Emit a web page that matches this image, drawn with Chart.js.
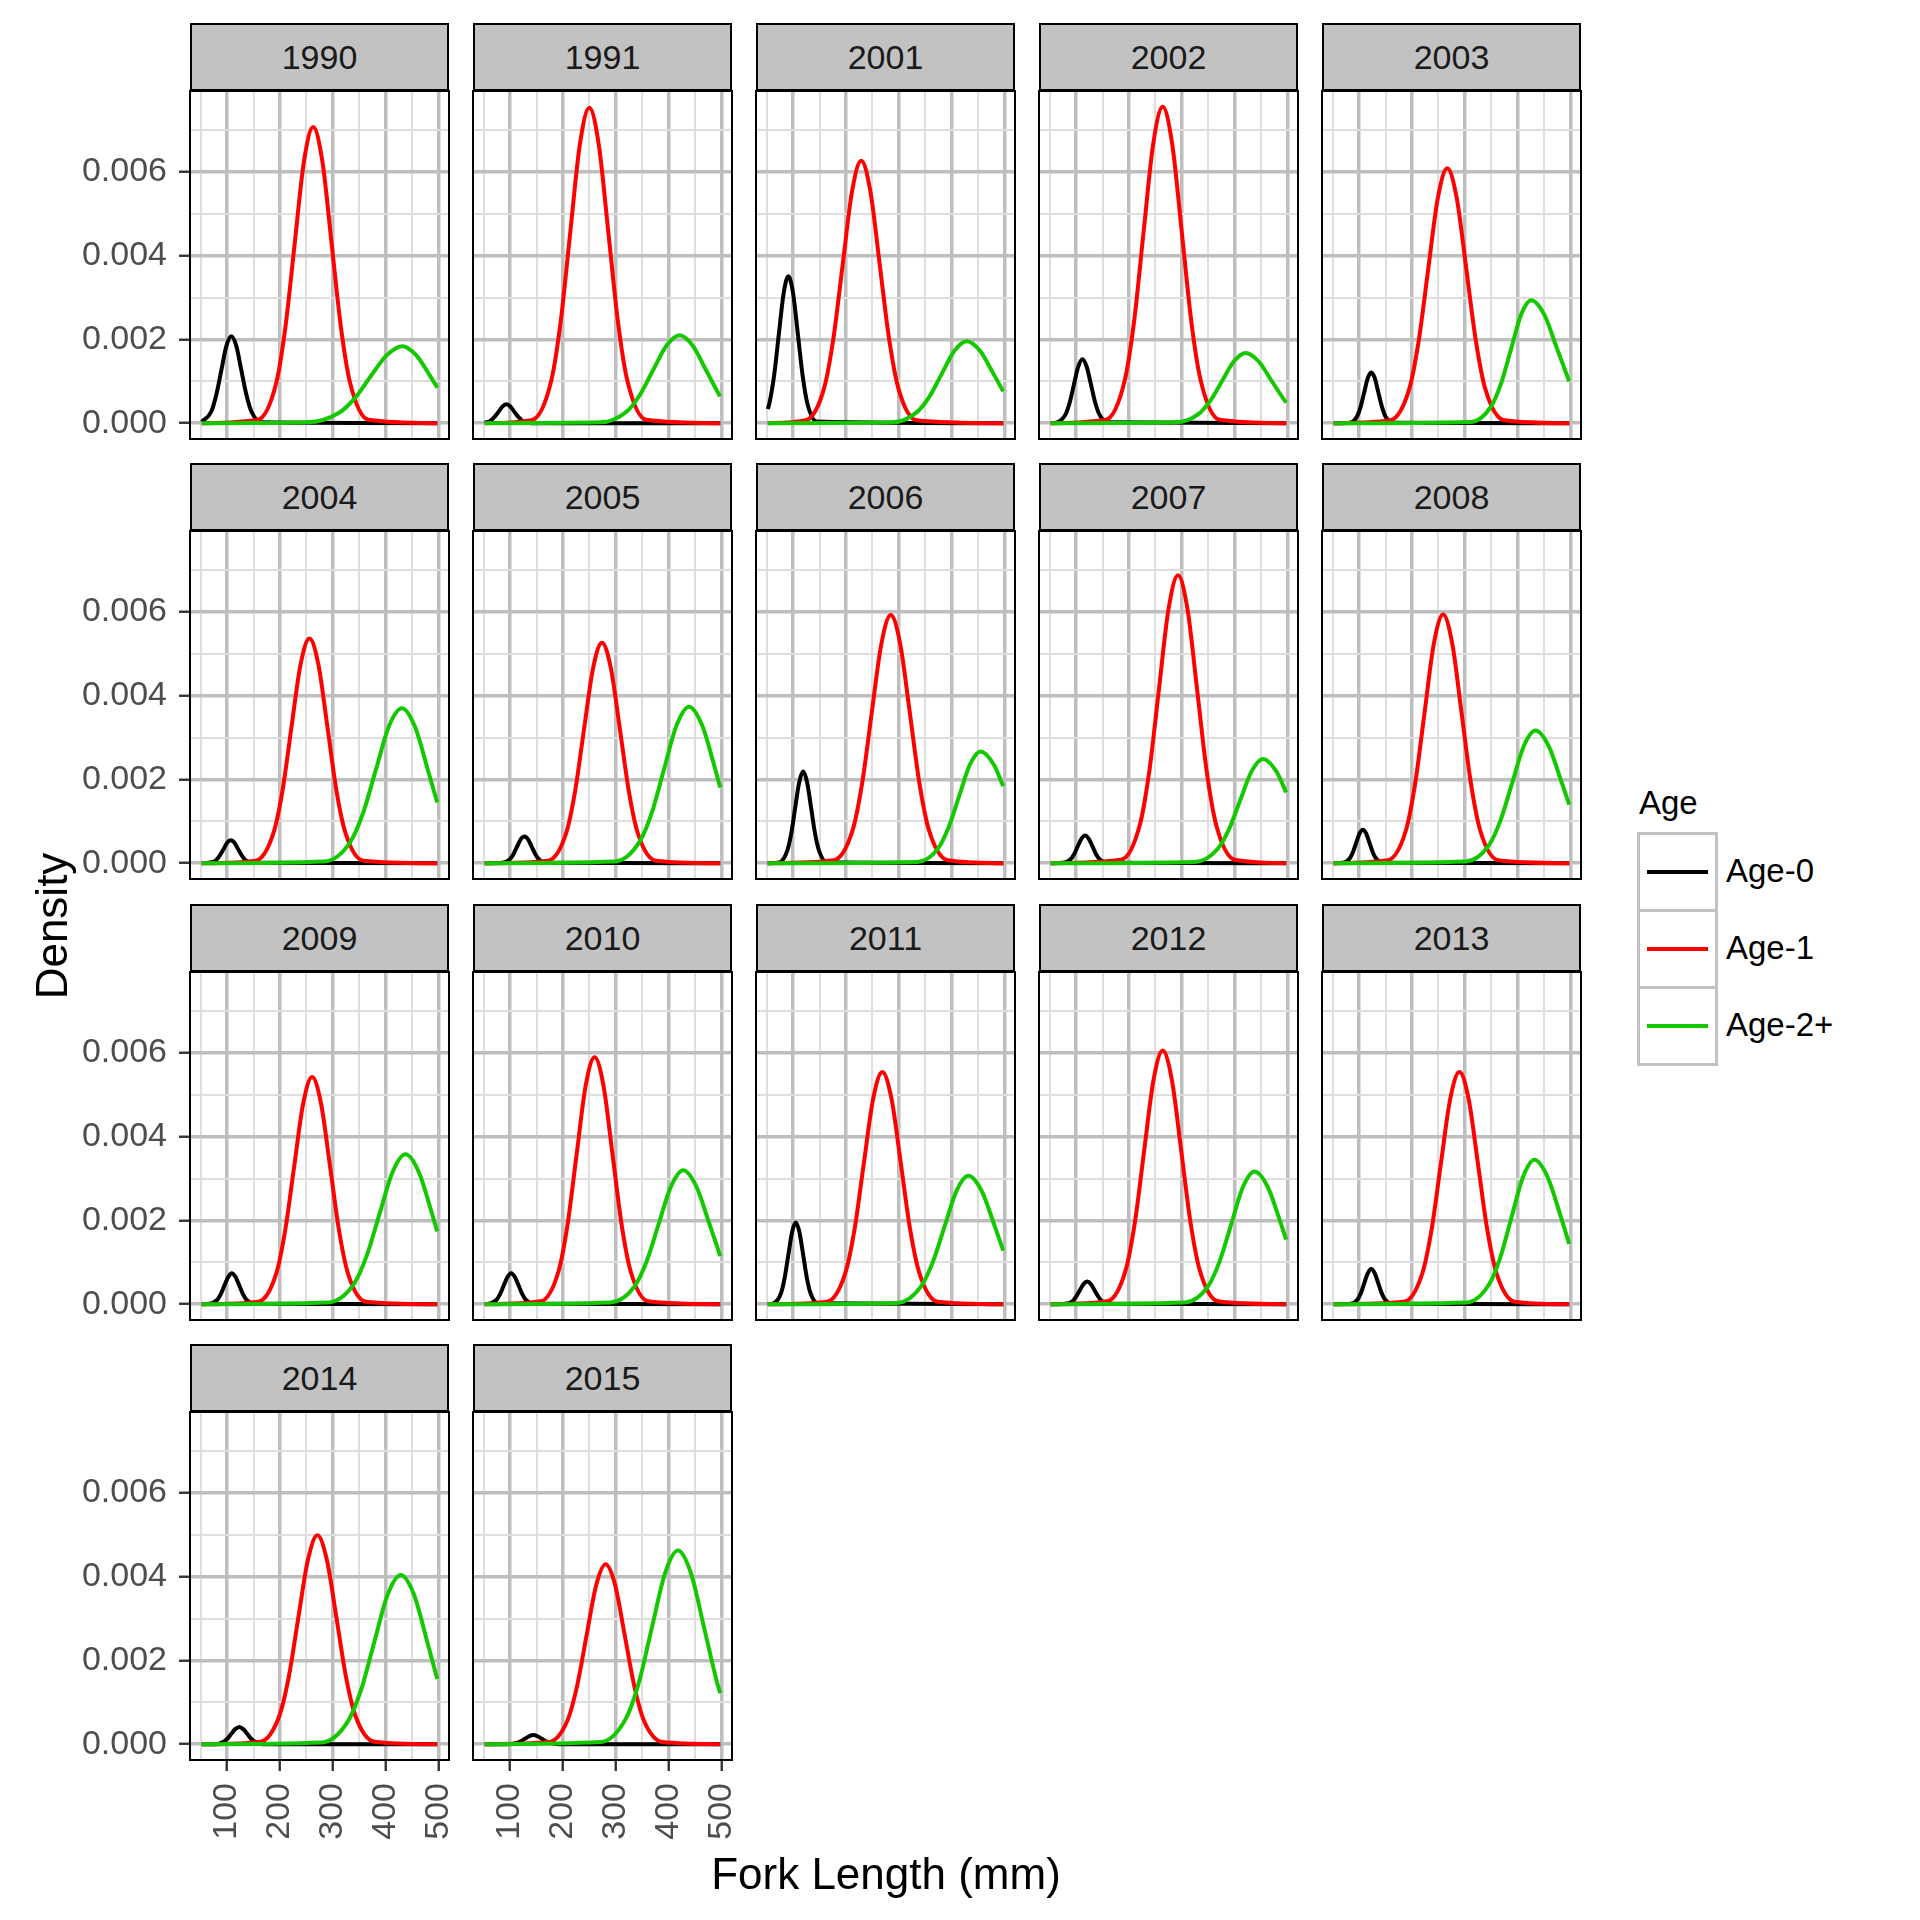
<!DOCTYPE html>
<html>
<head>
<meta charset="utf-8">
<script src="https://cdn.jsdelivr.net/npm/chart.js@4.4.0/dist/chart.umd.min.js"></script>
<style>
html,body{margin:0;padding:0;background:#ffffff;}
#page{position:relative;width:1920px;height:1920px;overflow:hidden;font-family:"Liberation Sans",Arial,Helvetica,sans-serif;}
#page canvas{position:absolute;}
.strip{position:absolute;box-sizing:border-box;background:#C2C2C2;border:2px solid #000;color:#1A1A1A;font-size:34px;text-align:center;white-space:nowrap;}
.txt{position:absolute;white-space:nowrap;color:#000;}
.key{position:absolute;box-sizing:border-box;border:3px solid #C2C2C2;background:#fff;}
.keyline{position:absolute;left:7px;width:61px;height:4px;}
</style>
</head>
<body>
<div id="page"></div>
<script>
// ---------------- data ----------------
const YEARS = ['1990','1991','2001','2002','2003','2004','2005','2006','2007','2008','2009','2010','2011','2012','2013','2014','2015'];
const AGE_GROUPS = ['Age-0','Age-1','Age-2+'];
const X_TICKS = [50,100,150,200,250,300,350,400,450,500];
const X_LABELS = [100,200,300,400,500];
const Y_TICKS = [0,0.001,0.002,0.003,0.004,0.005,0.006,0.007];
const Y_LABELS = [0,0.002,0.004,0.006];

// Age-0 density curves, [fork length, density], one list per year (YEARS order)
const AGE0 = [
 [[52,.00003],[70,.00028],[79.5,.00068],[89,.00126],[98.5,.00184],[108,.00208],[117.5,.00184],[127,.00126],[136.5,.00068],[146,.00028],[165,.00002],[498,0]],
 [[52,.00001],[63,.00006],[70.5,.00015],[78,.00027],[85.5,.0004],[93,.00045],[100.5,.0004],[108,.00027],[115.5,.00015],[123,.00006],[138,0],[498,0]],
 [[52,.00034],[55,.00047],[64,.00114],[73,.00213],[82,.0031],[91,.00351],[100,.0031],[109,.00213],[118,.00114],[127,.00047],[145,.00004],[498,0]],
 [[52,0],[64,.00002],[80,.00021],[88,.0005],[96,.00093],[104,.00135],[112,.00153],[120,.00135],[128,.00093],[136,.0005],[144,.00021],[160,.00002],[498,0]],
 [[52,0],[82.5,.00001],[96,.00016],[102.8,.00039],[109.5,.00073],[116.3,.00107],[123,.00121],[129.8,.00107],[136.5,.00073],[143.3,.00039],[150,.00016],[163.5,.00001],[498,0]],
 [[52,0],[65,.00001],[79,.00007],[86,.00018],[93,.00033],[100,.00049],[107,.00055],[114,.00049],[121,.00033],[128,.00018],[135,.00007],[149,.00001],[498,0]],
 [[52,0],[85,.00001],[99,.00009],[106,.00021],[113,.00039],[120,.00057],[127,.00064],[134,.00057],[141,.00039],[148,.00021],[155,.00009],[169,.00001],[498,0]],
 [[52,0],[74,.00002],[89,.0003],[96.5,.00071],[104,.00133],[111.5,.00193],[119,.00219],[126.5,.00193],[134,.00133],[141.5,.00071],[149,.0003],[164,.00002],[498,0]],
 [[52,0],[75,.00001],[89,.00009],[96,.00021],[103,.0004],[110,.00058],[117,.00066],[124,.00058],[131,.0004],[138,.00021],[145,.00009],[159,.00001],[498,0]],
 [[52,0],[69.5,.00001],[82,.00011],[88.3,.00026],[94.5,.00049],[100.8,.00071],[107,.0008],[113.3,.00071],[119.5,.00049],[125.8,.00026],[132,.00011],[144.5,.00001],[498,0]],
 [[52,0],[67,.00001],[81,.0001],[88,.00024],[95,.00045],[102,.00065],[109,.00074],[116,.00065],[123,.00045],[130,.00024],[137,.0001],[151,.00001],[498,0]],
 [[52,0],[60,.00001],[74,.0001],[81,.00024],[88,.00045],[95,.00065],[102,.00074],[109,.00065],[116,.00045],[123,.00024],[130,.0001],[144,.00001],[498,0]],
 [[52,0],[63,.00002],[77,.00026],[84,.00063],[91,.00118],[98,.00172],[105,.00195],[112,.00172],[119,.00118],[126,.00063],[133,.00026],[147,.00002],[498,0]],
 [[52,0],[79,.00001],[93,.00007],[100,.00018],[107,.00033],[114,.00048],[121,.00054],[128,.00048],[135,.00033],[142,.00018],[149,.00007],[163,.00001],[498,0]],
 [[52,0],[84,.00001],[97,.00011],[103.5,.00027],[110,.00051],[116.5,.00074],[123,.00084],[129.5,.00074],[136,.00051],[142.5,.00027],[149,.00011],[162,.00001],[498,0]],
 [[52,0],[78,0],[93,.00006],[100.5,.00013],[108,.00025],[115.5,.00036],[123,.00041],[130.5,.00036],[138,.00025],[145.5,.00013],[153,.00006],[168,0],[498,0]],
 [[52,0],[96,0],[112,.00003],[120,.00007],[128,.00013],[136,.00019],[144,.00022],[152,.00019],[160,.00013],[168,.00007],[176,.00003],[192,0],[498,0]]
];

// Age-1 density curves
const AGE1 = [
 [[52,0],[158,.00008],[193,.00096],[210.5,.0023],[228,.00429],[245.5,.00625],[263,.00708],[280.5,.00625],[298,.00429],[315.5,.0023],[333,.00096],[368,.00008],[498,0]],
 [[52,0],[142,.00008],[178,.00102],[196,.00245],[214,.00457],[232,.00665],[250,.00754],[268,.00665],[286,.00457],[304,.00245],[322,.00102],[358,.00008],[498,0]],
 [[52,0],[124,.00007],[159,.00085],[176.5,.00204],[194,.0038],[211.5,.00553],[229,.00627],[246.5,.00553],[264,.0038],[281.5,.00204],[299,.00085],[334,.00007],[498,0]],
 [[52,0],[156,.00008],[192,.00102],[210,.00245],[228,.00459],[246,.00667],[264,.00756],[282,.00667],[300,.00459],[318,.00245],[336,.00102],[372,.00008],[498,0]],
 [[52,0],[159,.00007],[195,.00082],[213,.00198],[231,.00369],[249,.00537],[267,.00609],[285,.00537],[303,.00369],[321,.00198],[339,.00082],[375,.00007],[498,0]],
 [[52,0],[154,.00006],[188,.00073],[205,.00174],[222,.00326],[239,.00474],[256,.00537],[273,.00474],[290,.00326],[307,.00174],[324,.00073],[358,.00006],[498,0]],
 [[52,0],[172,.00006],[206,.00071],[223,.00171],[240,.0032],[257,.00465],[274,.00527],[291,.00465],[308,.0032],[325,.00171],[342,.00071],[376,.00006],[498,0]],
 [[52,0],[177,.00007],[213,.0008],[231,.00193],[249,.0036],[267,.00523],[285,.00593],[303,.00523],[321,.0036],[339,.00193],[357,.0008],[393,.00007],[498,0]],
 [[52,0],[185,.00008],[221,.00093],[239,.00223],[257,.00417],[275,.00607],[293,.00688],[311,.00607],[329,.00417],[347,.00223],[365,.00093],[401,.00008],[498,0]],
 [[52,0],[154,.00007],[189,.0008],[206.5,.00193],[224,.0036],[241.5,.00524],[259,.00594],[276.5,.00524],[294,.0036],[311.5,.00193],[329,.0008],[364,.00007],[498,0]],
 [[52,0],[159,.00006],[193,.00073],[210,.00176],[227,.00329],[244,.00479],[261,.00543],[278,.00479],[295,.00329],[312,.00176],[329,.00073],[363,.00006],[498,0]],
 [[52,0],[158,.00007],[192,.0008],[209,.00192],[226,.00358],[243,.00521],[260,.0059],[277,.00521],[294,.00358],[311,.00192],[328,.0008],[362,.00007],[498,0]],
 [[52,0],[164,.00006],[199,.00075],[216.5,.0018],[234,.00337],[251.5,.0049],[269,.00555],[286.5,.0049],[304,.00337],[321.5,.0018],[339,.00075],[374,.00006],[498,0]],
 [[52,0],[159,.00007],[194,.00082],[211.5,.00197],[229,.00368],[246.5,.00535],[264,.00606],[281.5,.00535],[299,.00368],[316.5,.00197],[334,.00082],[369,.00007],[498,0]],
 [[52,0],[185,.00006],[220,.00075],[237.5,.0018],[255,.00337],[272.5,.0049],[290,.00555],[307.5,.0049],[325,.00337],[342.5,.0018],[360,.00075],[395,.00006],[498,0]],
 [[52,0],[163,.00006],[199,.00068],[217,.00162],[235,.00303],[253,.0044],[271,.00499],[289,.0044],[307,.00303],[325,.00162],[343,.00068],[379,.00006],[498,0]],
 [[52,0],[173,.00005],[209,.00058],[227,.0014],[245,.00261],[263,.0038],[281,.0043],[299,.0038],[317,.00261],[335,.0014],[353,.00058],[389,.00005],[498,0]]
];

// Age-2+ density curves
const AGE2 = [
 [[52,0],[252,.00002],[312,.00025],[342,.0006],[372,.00112],[402,.00162],[432,.00184],[458.5,.00162],[485,.00112],[498,.00085]],
 [[52,0],[271,.00002],[321,.00028],[346,.00068],[371,.00127],[396,.00185],[421,.0021],[446,.00185],[471,.00127],[496,.00068],[498,.00064]],
 [[52,0],[288,.00002],[335,.00027],[358.5,.00064],[382,.00119],[405.5,.00173],[429,.00196],[454,.00173],[479,.00119],[498,.00076]],
 [[52,0],[289,.00002],[333,.00023],[355,.00055],[377,.00102],[399,.00148],[421,.00168],[445.5,.00148],[470,.00102],[494.5,.00055],[498,.00049]],
 [[52,0],[312,.00003],[350,.0004],[369,.00095],[388,.00178],[407,.0026],[426,.00294],[450.5,.0026],[475,.00178],[498,.001]],
 [[52,0],[284,.00004],[333,.0005],[357.5,.0012],[382,.00224],[406.5,.00327],[431,.0037],[455.5,.00327],[480,.00224],[498,.00145]],
 [[52,0],[298,.00004],[345,.00051],[368.5,.00121],[392,.00227],[415.5,.0033],[439,.00374],[463.5,.0033],[488,.00227],[498,.00181]],
 [[52,0],[335,.00003],[375,.00036],[395,.00087],[415,.00162],[435,.00236],[455,.00267],[480,.00236],[498,.00184]],
 [[52,0],[325,.00003],[368,.00034],[389.5,.00081],[411,.00151],[432.5,.0022],[454,.00249],[479,.0022],[498,.00169]],
 [[52,0],[302,.00004],[346,.00043],[368,.00103],[390,.00192],[412,.0028],[434,.00317],[459,.0028],[484,.00192],[498,.0014]],
 [[52,0],[291,.00004],[340,.00048],[364.5,.00116],[389,.00217],[413.5,.00316],[438,.00358],[463,.00316],[488,.00217],[498,.00174]],
 [[52,0],[290,.00004],[336,.00043],[359,.00104],[382,.00194],[405,.00282],[428,.0032],[452.5,.00282],[477,.00194],[498,.00115]],
 [[52,0],[297,.00003],[342,.00042],[364.5,.001],[387,.00186],[409.5,.00271],[432,.00307],[457,.00271],[482,.00186],[498,.00128]],
 [[52,0],[306,.00004],[350,.00043],[372,.00103],[394,.00192],[416,.0028],[438,.00317],[463,.0028],[488,.00192],[498,.00154]],
 [[52,0],[303,.00004],[346,.00047],[367.5,.00112],[389,.00209],[410.5,.00304],[432,.00345],[457,.00304],[482,.00209],[498,.00144]],
 [[52,0],[279,.00004],[329,.00055],[354,.00131],[379,.00245],[404,.00357],[429,.00404],[454,.00357],[479,.00245],[498,.00156]],
 [[52,0],[271,.00005],[320,.00063],[344.5,.0015],[369,.00281],[393.5,.00409],[418,.00463],[442.5,.00409],[467,.00281],[491.5,.0015],[498,.00122]]
];

// ---------------- layout & style ----------------
const COLORS = ['#000000', '#FF0000', '#14C800'];
const X_MIN = 29.7, X_MAX = 520.3, Y_MIN = -0.000378, Y_MAX = 0.007938;
const COL_X = [190, 473, 756, 1039, 1322];
const ROW_Y = [91, 531, 972, 1412];
const PW = 259, PH = 348, STRIP_H = 68;
const MAJOR = '#BEBEBE', MINOR = '#DEDEDE';
const FONT = '"Liberation Sans", Arial, Helvetica, sans-serif';
const X_AXIS_H = 100;

Chart.defaults.font.family = FONT;

const page = document.getElementById('page');
const isMajorX = v => X_LABELS.some(t => Math.abs(t - v) < 1e-6);
const isMajorY = v => Y_LABELS.some(t => Math.abs(t - v) < 1e-9);

const panelBorder = {
  id: 'panelBorder',
  afterDraw(chart) {
    const {ctx, chartArea: a} = chart;
    ctx.save();
    ctx.strokeStyle = '#000';
    ctx.lineWidth = 2;
    ctx.strokeRect(a.left, a.top, a.right - a.left, a.bottom - a.top);
    ctx.restore();
  }
};

function fixFit(s, horiz, size) {
  if (horiz) s.height = size; else s.width = size;
  s.paddingLeft = 0; s.paddingRight = 0; s.paddingTop = 0; s.paddingBottom = 0;
}

YEARS.forEach((yr, i) => {
  const c = i % 5, r = Math.floor(i / 5);
  const pl = COL_X[c], pt = ROW_Y[r];
  const showY = c === 0, showX = r === 3;

  const strip = document.createElement('div');
  strip.className = 'strip';
  strip.style.left = pl + 'px';
  strip.style.top = (pt - STRIP_H) + 'px';
  strip.style.width = PW + 'px';
  strip.style.height = STRIP_H + 'px';
  strip.style.lineHeight = (STRIP_H - 4) + 'px';
  strip.textContent = yr;
  page.appendChild(strip);

  // canvas extents around the panel
  const extL = showY ? pl : 6, extT = 6, extR = 6, extB = showX ? X_AXIS_H : 6;
  const yAxisW = showY ? extL : 0;
  const xAxisH = showX ? extB : 0;
  const cw = PW + extL + extR, ch = PH + extT + extB;
  const cv = document.createElement('canvas');
  cv.width = cw; cv.height = ch;
  cv.style.width = cw + 'px'; cv.style.height = ch + 'px';
  cv.style.left = (pl - extL) + 'px';
  cv.style.top = (pt - extT) + 'px';
  page.appendChild(cv);

  const curves = [AGE0[i], AGE1[i], AGE2[i]];
  new Chart(cv, {
    type: 'line',
    data: {
      datasets: AGE_GROUPS.map((g, k) => ({
        label: g,
        data: curves[k],
        borderColor: COLORS[k],
        borderWidth: 4,
        pointRadius: 0,
        fill: false,
        cubicInterpolationMode: 'monotone',
        order: 3 - k
      }))
    },
    options: {
      responsive: false,
      animation: false,
      devicePixelRatio: 1,
      events: [],
      layout: {padding: {left: extL - yAxisW, top: extT, right: extR, bottom: extB - xAxisH}},
      plugins: {legend: {display: false}, tooltip: {enabled: false}, title: {display: false}},
      scales: {
        x: {
          type: 'linear', position: 'bottom', min: X_MIN, max: X_MAX,
          afterBuildTicks: s => { s.ticks = X_TICKS.map(v => ({value: v})); },
          afterFit: s => fixFit(s, true, xAxisH),
          border: {display: false},
          grid: {
            color: ctx => (ctx.tick && isMajorX(ctx.tick.value)) ? MAJOR : MINOR,
            lineWidth: ctx => (ctx.tick && isMajorX(ctx.tick.value)) ? 3.5 : 2,
            drawTicks: showX, tickLength: 11, tickWidth: 2.4,
            tickColor: ctx => (ctx.tick && isMajorX(ctx.tick.value)) ? '#333333' : 'rgba(0,0,0,0)'
          },
          ticks: {
            display: showX, autoSkip: false, minRotation: 90, maxRotation: 90, padding: 12,
            color: '#4D4D4D', font: {family: FONT, size: 34},
            callback: v => isMajorX(v) ? String(Math.round(v)) : ''
          }
        },
        y: {
          type: 'linear', position: 'left', min: Y_MIN, max: Y_MAX,
          afterBuildTicks: s => { s.ticks = Y_TICKS.map(v => ({value: v})); },
          afterFit: s => fixFit(s, false, yAxisW),
          border: {display: false},
          grid: {
            color: ctx => (ctx.tick && isMajorY(ctx.tick.value)) ? MAJOR : MINOR,
            lineWidth: ctx => (ctx.tick && isMajorY(ctx.tick.value)) ? 3.5 : 2,
            drawTicks: showY, tickLength: 11, tickWidth: 2.4,
            tickColor: ctx => (ctx.tick && isMajorY(ctx.tick.value)) ? '#333333' : 'rgba(0,0,0,0)'
          },
          ticks: {
            display: showY, autoSkip: false, padding: 12,
            color: '#4D4D4D', font: {family: FONT, size: 34},
            callback: v => isMajorY(v) ? Number(v).toFixed(3) : ''
          }
        }
      }
    },
    plugins: [panelBorder]
  });
});

// axis titles
function addText(txt, css) {
  const d = document.createElement('div');
  d.className = 'txt';
  d.textContent = txt;
  Object.assign(d.style, css);
  page.appendChild(d);
  return d;
}
addText('Fork Length (mm)', {left: '586px', top: '1852px', width: '600px', height: '44px', lineHeight: '44px', fontSize: '44px', textAlign: 'center'});
addText('Density', {left: '-98px', top: '904px', width: '300px', height: '44px', lineHeight: '44px', fontSize: '44px', textAlign: 'center', transform: 'rotate(-90deg)'});

// legend
addText('Age', {left: '1639px', top: '786px', height: '33px', lineHeight: '33px', fontSize: '33px'});
AGE_GROUPS.forEach((g, k) => {
  const top = 832 + 77 * k;
  const key = document.createElement('div');
  key.className = 'key';
  key.style.left = '1637px';
  key.style.top = top + 'px';
  key.style.width = '81px';
  key.style.height = '80px';
  const ln = document.createElement('div');
  ln.className = 'keyline';
  ln.style.top = '35px';
  ln.style.background = COLORS[k];
  key.appendChild(ln);
  page.appendChild(key);
  addText(g, {left: '1726px', top: top + 'px', height: '77px', lineHeight: '77px', fontSize: '33px'});
});
</script>
</body>
</html>
